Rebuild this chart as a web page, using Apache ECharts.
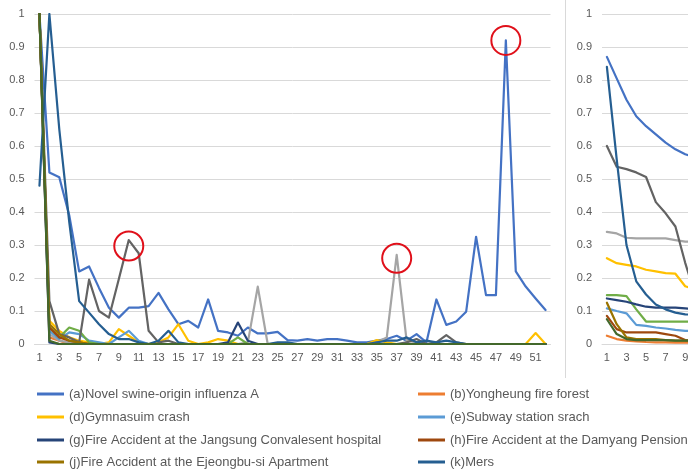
<!DOCTYPE html>
<html>
<head>
<meta charset="utf-8">
<script src="https://cdn.jsdelivr.net/npm/echarts@6/dist/echarts.min.js"></script>
<style>
  html, body { margin: 0; padding: 0; background: #fff; }
  #chart { width: 688px; height: 469px; }
</style>
</head>
<body>
<div id="chart"></div>
<script>
// week labels (1..52)
const weeks = ["1","2","3","4","5","6","7","8","9","10","11","12","13","14","15","16","17","18","19","20",
  "21","22","23","24","25","26","27","28","29","30","31","32","33","34","35","36","37","38","39","40",
  "41","42","43","44","45","46","47","48","49","50","51","52"];

// left chart: weekly normalised values
const leftA = [1.0,0.52,0.505,0.39,0.22,0.235,0.17,0.11,0.08,0.11,
  0.11,0.115,0.155,0.105,0.06,0.07,0.05,0.135,0.04,0.035,
  0.025,0.05,0.032,0.032,0.037,0.012,0.01,0.015,0.01,0.015,
  0.015,0.01,0.005,0.005,0.01,0.015,0.025,0.01,0.03,0.005,
  0.135,0.058,0.068,0.098,0.325,0.148,0.148,0.92,0.22,0.174,
  0.138,0.103];
const leftB = [1,0.02,0.01,0,0,0,0,0,0,0,
  0,0,0,0,0,0,0,0,0,0,
  0,0,0,0,0,0,0,0,0,0,
  0,0,0,0,0,0,0,0,0,0,
  0,0,0,0,0,0,0,0,0,0,
  0,0];
const leftC = [1,0.03,0.01,0.005,0,0,0,0,0,0,
  0,0,0,0,0,0,0,0,0,0,
  0,0.005,0.174,0,0,0,0,0,0,0,
  0,0,0,0,0.005,0.02,0.27,0.01,0.005,0,
  0,0,0,0,0,0,0,0,0,0,
  0,0];
const leftD = [1,0.07,0.04,0.02,0.01,0.005,0,0.005,0.045,0.025,
  0.005,0,0.005,0.02,0.06,0.01,0,0.005,0.015,0.01,
  0,0,0,0,0,0,0,0,0,0,
  0,0,0,0,0.012,0.005,0,0,0,0,
  0,0,0,0,0,0,0,0,0,0,
  0.033,0];
const leftE = [1,0.04,0.015,0.035,0.03,0.01,0.005,0,0.02,0.04,
  0.01,0,0,0,0,0,0,0,0,0,
  0,0,0,0,0,0,0,0,0,0,
  0,0,0,0,0,0,0,0,0,0,
  0,0,0,0,0,0,0,0,0,0,
  0,0];
const leftF = [1,0.05,0.02,0.05,0.04,0.005,0,0,0,0,
  0,0,0,0,0,0,0,0,0,0,
  0.02,0,0,0,0,0,0,0,0,0,
  0,0,0,0,0,0,0,0,0,0,
  0,0,0,0,0,0,0,0,0,0,
  0,0];
const leftG = [1,0.005,0,0,0,0,0,0,0,0,
  0,0,0,0,0,0,0,0,0,0.005,
  0.065,0.01,0,0,0,0,0,0,0,0,
  0,0,0,0,0,0,0,0,0,0,
  0,0,0,0,0,0,0,0,0,0,
  0,0];
const leftH = [1,0.05,0.02,0.01,0.005,0,0,0,0,0,
  0,0,0,0,0,0,0,0,0,0,
  0,0,0,0,0,0,0,0,0,0,
  0,0,0,0,0,0,0,0,0,0,
  0,0,0,0,0,0,0,0,0,0,
  0,0];
const leftI = [1,0.13,0.03,0.02,0.005,0.195,0.1,0.08,0.197,0.315,
  0.275,0.04,0.005,0.01,0,0,0,0,0,0,
  0,0,0,0,0,0,0,0,0,0,
  0,0,0,0,0,0,0,0.005,0.015,0,
  0.005,0.027,0.005,0,0,0,0,0,0,0,
  0,0];
const leftJ = [1,0.06,0.03,0.01,0.005,0,0,0,0,0,
  0,0,0,0,0,0,0,0,0,0,
  0,0,0,0,0,0,0,0,0,0,
  0,0,0,0,0,0,0,0,0,0,
  0,0,0,0,0,0,0,0,0,0,
  0,0];
const leftK = [0.48,1,0.65,0.37,0.13,0.095,0.06,0.03,0.015,0.015,
  0.005,0,0.01,0.04,0.005,0,0,0,0,0,
  0,0,0,0,0.005,0.005,0,0,0,0,
  0,0,0,0,0.005,0.01,0.01,0.02,0.005,0.01,
  0.005,0.01,0.005,0,0,0,0,0,0,0,
  0,0];
const leftL = [1,0.01,0,0,0,0,0,0,0,0,
  0,0,0,0,0,0,0,0,0,0,
  0,0,0,0,0,0,0,0,0,0,
  0,0,0,0,0,0,0,0,0,0,
  0,0,0,0,0,0,0,0,0,0,
  0,0];

// right chart: only the first weeks are visible
const rightA = [0.87,0.805,0.74,0.69,0.66,0.635,0.61,0.59,0.575,0.565];
const rightB = [0.025,0.015,0.01,0.008,0.006,0.005,0.005,0.004,0.004,0.004];
const rightC = [0.34,0.335,0.322,0.32,0.32,0.32,0.32,0.315,0.31,0.31];
const rightD = [0.26,0.245,0.24,0.235,0.225,0.22,0.215,0.213,0.175,0.165];
const rightE = [0.108,0.1,0.093,0.058,0.055,0.05,0.047,0.043,0.04,0.04];
const rightF = [0.148,0.148,0.145,0.105,0.068,0.068,0.068,0.068,0.068,0.068];
const rightG = [0.138,0.133,0.128,0.12,0.113,0.11,0.11,0.11,0.108,0.106];
const rightH = [0.085,0.045,0.035,0.035,0.035,0.035,0.03,0.025,0.012,0.01];
const rightI = [0.6,0.537,0.53,0.52,0.506,0.43,0.396,0.356,0.246,0.15];
const rightJ = [0.125,0.06,0.02,0.015,0.015,0.015,0.012,0.01,0.01,0.01];
const rightK = [0.84,0.56,0.3,0.19,0.15,0.12,0.105,0.095,0.09,0.088];
const rightL = [0.075,0.03,0.015,0.012,0.012,0.012,0.012,0.01,0.01,0.01];

const seriesNames = {
  a: "(a)Novel swine-origin influenza A",
  b: "(b)Yongheung fire forest",
  c: "(c)",
  d: "(d)Gymnasuim crash",
  e: "(e)Subway station srach",
  f: "(f)",
  g: "(g)Fire Accident at the Jangsung Convalesent hospital",
  h: "(h)Fire Accident at the Damyang Pension",
  i: "(i)",
  j: "(j)Fire Accident at the Ejeongbu-si Apartment",
  k: "(k)Mers",
  l: "(l)"
};

// highlighted peaks (week, value)
const peakCircles = [
  { series: "i", week: "10", value: 0.297 },
  { series: "c", week: "37", value: 0.26 },
  { series: "a", week: "48", value: 0.92 }
];

const keys = ["a","b","c","d","e","f","g","h","i","j","k","l"];
const leftData = { a: leftA, b: leftB, c: leftC, d: leftD, e: leftE, f: leftF, g: leftG, h: leftH, i: leftI, j: leftJ, k: leftK, l: leftL };
const rightData = { a: rightA, b: rightB, c: rightC, d: rightD, e: rightE, f: rightF, g: rightG, h: rightH, i: rightI, j: rightJ, k: rightK, l: rightL };

const palette = {
  a: "#4472C4", b: "#ED7D31", c: "#A5A5A5", d: "#FFC000", e: "#5B9BD5", f: "#70AD47",
  g: "#264478", h: "#9E480E", i: "#636363", j: "#997300", k: "#255E91", l: "#43682B"
};

const font = "Liberation Sans";
const labelColor = "#595959";
const gridColor = "#d9d9d9";

const chart = echarts.init(document.getElementById("chart"));

function makeSeries(k, data, idx) {
  const s = {
    name: seriesNames[k],
    type: "line",
    xAxisIndex: idx,
    yAxisIndex: idx,
    data: data,
    symbol: "none",
    showSymbol: false,
    color: palette[k],
    lineStyle: { width: 2.2, color: palette[k], cap: "round", join: "round" },
    emphasis: { disabled: true }
  };
  if (idx === 0) {
    const marks = peakCircles.filter((p) => p.series === k);
    if (marks.length) {
      s.markPoint = {
        symbol: "circle",
        symbolSize: 29,
        silent: true,
        label: { show: false },
        itemStyle: { color: "rgba(0,0,0,0)", borderColor: "#E0101A", borderWidth: 2 },
        data: marks.map((p) => ({ coord: [p.week, p.value] }))
      };
    }
  }
  return s;
}

const series = [];
keys.forEach((k) => {
  series.push(makeSeries(k, leftData[k], 0));
  series.push(makeSeries(k, rightData[k], 1));
});

function xAxisFor(idx) {
  return {
    gridIndex: idx,
    type: "category",
    data: weeks,
    boundaryGap: true,
    axisTick: { show: false },
    axisLine: { lineStyle: { color: gridColor } },
    axisLabel: { interval: 1, color: labelColor, fontSize: 11, fontFamily: font, margin: 8 }
  };
}

function yAxisFor(idx) {
  return {
    gridIndex: idx,
    type: "value",
    min: 0,
    max: 1,
    interval: 0.1,
    axisLine: { show: false },
    axisTick: { show: false },
    axisLabel: { color: labelColor, fontSize: 11, fontFamily: font, margin: 10 },
    splitLine: { lineStyle: { color: gridColor, width: 1 } }
  };
}

// one legend per entry so each sits exactly where the original has it
function legendItem(k, left, top) {
  return {
    left: left,
    top: top,
    padding: 0,
    icon: "rect",
    itemWidth: 27,
    itemHeight: 3,
    selectedMode: false,
    data: [seriesNames[k]],
    textStyle: { fontSize: 13, fontFamily: font, color: labelColor, lineHeight: 13 }
  };
}

const legendRows = [387.5, 410.5, 433.5, 455.5];

const option = {
  animation: false,
  backgroundColor: "#fff",
  grid: [
    { left: 34.5, top: 14, width: 516, height: 330, outerBoundsMode: "none" },
    { left: 602, top: 14, width: 509, height: 330, outerBoundsMode: "none" }
  ],
  xAxis: [xAxisFor(0), xAxisFor(1)],
  yAxis: [yAxisFor(0), yAxisFor(1)],
  legend: [
    legendItem("a", 37, legendRows[0]),
    legendItem("d", 37, legendRows[1]),
    legendItem("g", 37, legendRows[2]),
    legendItem("j", 37, legendRows[3]),
    legendItem("b", 418, legendRows[0]),
    legendItem("e", 418, legendRows[1]),
    legendItem("h", 418, legendRows[2]),
    legendItem("k", 418, legendRows[3])
  ],
  graphic: [
    {
      type: "line",
      shape: { x1: 565.5, y1: 0, x2: 565.5, y2: 378 },
      style: { stroke: gridColor, lineWidth: 1 }
    }
  ],
  series: series
};

chart.setOption(option);
</script>
</body>
</html>
